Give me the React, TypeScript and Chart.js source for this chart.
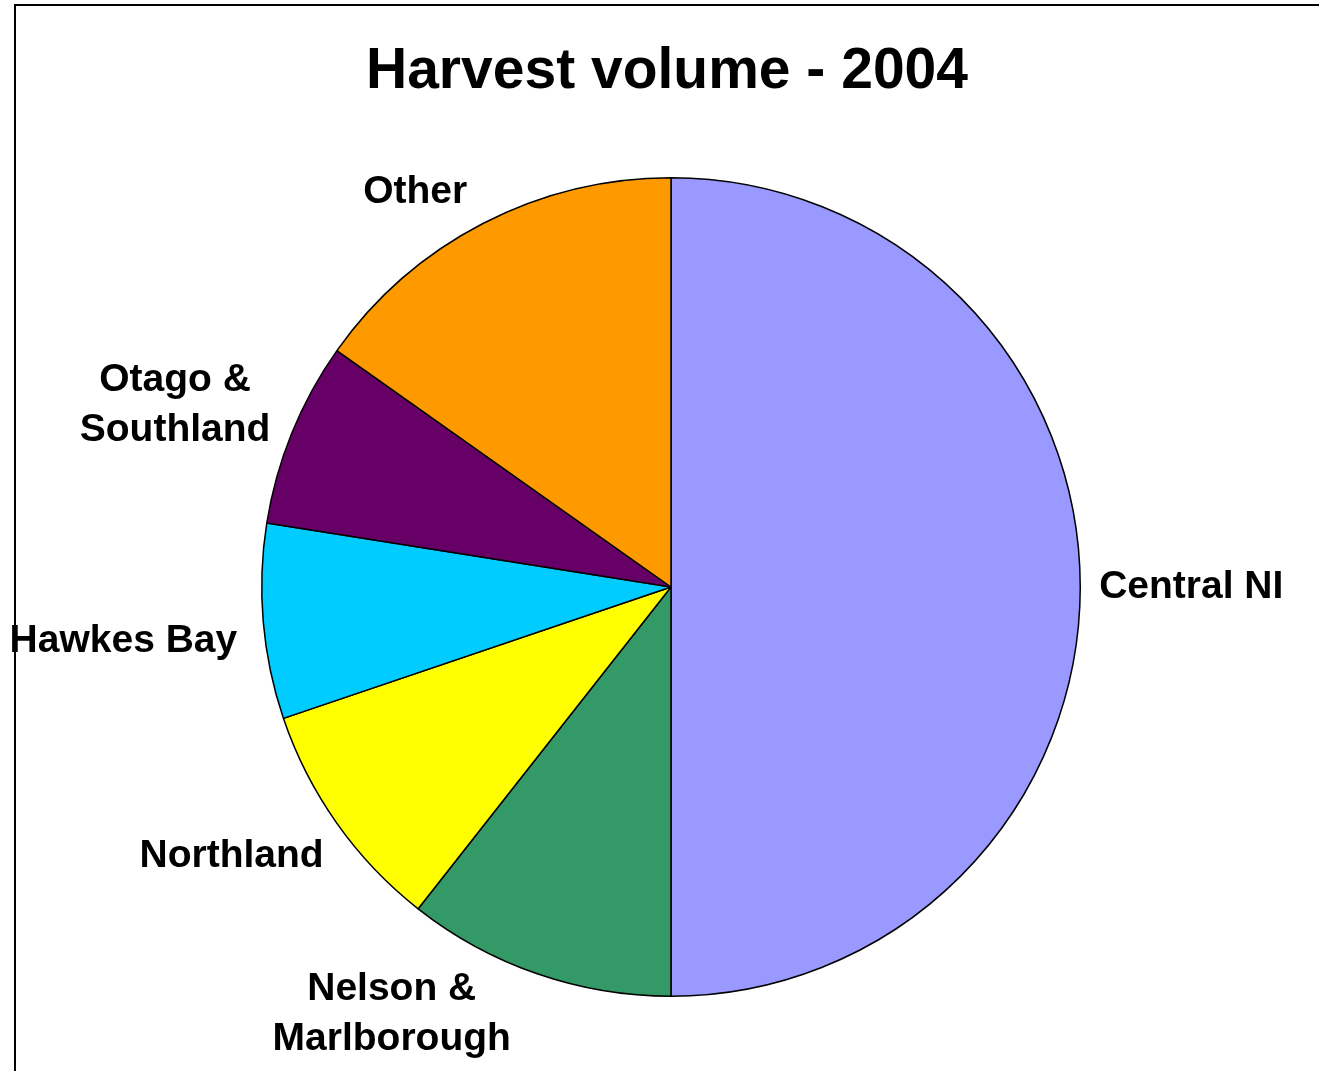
import React, { useEffect, useRef } from "react";
import { Chart, registerables } from "chart.js";

Chart.register(...registerables);

const titleText = "Harvest volume - 2004";
const categories = [
  "Central NI",
  "Nelson & Marlborough",
  "Northland",
  "Hawkes Bay",
  "Otago & Southland",
  "Other",
];
const labelLines = [
  ["Central NI"],
  ["Nelson &", "Marlborough"],
  ["Northland"],
  ["Hawkes Bay"],
  ["Otago &", "Southland"],
  ["Other"],
];
const shares = [50.0, 10.6, 9.2, 7.7, 7.3, 15.2];
const colors = ["#9999FF", "#339966", "#FFFF00", "#00CCFF", "#660066", "#FF9900"];
// label placement (style): angular shift from slice middle (deg) and distance of label centre beyond the rim (px)
const labelAngleShift = [0, 14.1, 3.8, -0.8, -2.0, -5.6];
const labelDistance = [111, 101, 106, 141, 119, 61];

const FONT = "'Liberation Sans', Arial, Helvetica, sans-serif";
const W = 1319;
const H = 1071;

const decorPlugin = {
  id: "decor",
  beforeDraw(chart: any) {
    const ctx = chart.ctx;
    ctx.save();
    ctx.fillStyle = "#ffffff";
    ctx.fillRect(0, 0, chart.width, chart.height);
    ctx.strokeStyle = "#000000";
    ctx.lineWidth = 2;
    ctx.beginPath();
    ctx.moveTo(15, chart.height + 2);
    ctx.lineTo(15, 5);
    ctx.lineTo(chart.width + 2, 5);
    ctx.stroke();
    ctx.restore();
  },
  afterDraw(chart: any) {
    const ctx = chart.ctx;
    ctx.save();
    // title
    ctx.fillStyle = "#000000";
    ctx.font = `bold 57px ${FONT}`;
    ctx.textAlign = "center";
    ctx.textBaseline = "middle";
    ctx.fillText(titleText, 667, 72);

    // slice labels
    const meta = chart.getDatasetMeta(0);
    ctx.font = `bold 39px ${FONT}`;
    const lineH = 50;
    meta.data.forEach((arc: any, i: number) => {
      const p = arc.getProps(["x", "y", "startAngle", "endAngle", "outerRadius"], true);
      const mid = (p.startAngle + p.endAngle) / 2 + (labelAngleShift[i] * Math.PI) / 180;
      const r = p.outerRadius + labelDistance[i];
      const cx = p.x + r * Math.cos(mid);
      const cy = p.y + r * Math.sin(mid);
      const lines = labelLines[i];
      const h = lines.length * lineH;
      ctx.textAlign = "center";
      ctx.textBaseline = "middle";
      lines.forEach((l, j) => {
        ctx.fillText(l, cx, cy - h / 2 + lineH * (j + 0.5));
      });
    });
    ctx.restore();
  },
};

export default function App() {
  const ref = useRef<HTMLCanvasElement | null>(null);

  useEffect(() => {
    if (!ref.current) return;
    const chart = new Chart(ref.current, {
      type: "pie",
      data: {
        labels: categories,
        datasets: [
          {
            data: shares,
            backgroundColor: colors,
            borderColor: "#000000",
            borderWidth: 1.5,
          },
        ],
      },
      options: {
        responsive: false,
        animation: false,
        layout: { padding: { left: 261, right: 238, top: 177, bottom: 74 } },
        plugins: {
          legend: { display: false },
          tooltip: { enabled: false },
          title: { display: false },
        },
      },
      plugins: [decorPlugin],
    });
    return () => chart.destroy();
  }, []);

  return (
    <div style={{ position: "fixed", left: 0, top: 0, width: W, height: H, background: "#fff" }}>
      <canvas ref={ref} width={W} height={H} style={{ display: "block" }} />
    </div>
  );
}
